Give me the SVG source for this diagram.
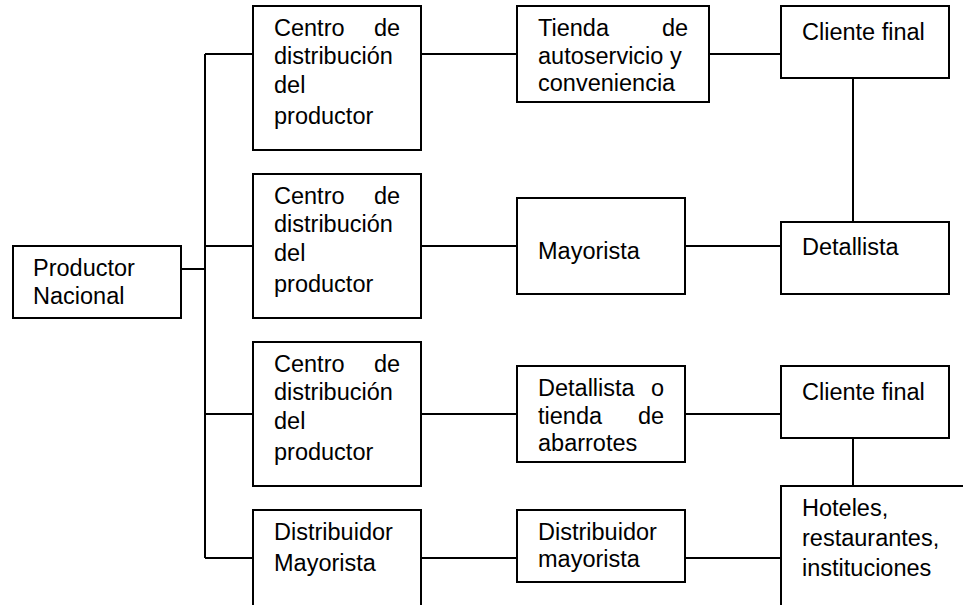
<svg xmlns="http://www.w3.org/2000/svg" width="963" height="605" viewBox="0 0 963 605">
<style>
.box{fill:#fff;stroke:#000;stroke-width:2}
.ln{fill:none;stroke:#000;stroke-width:2}
text{font-family:"Liberation Sans",Arial,sans-serif;font-size:23.5px;fill:#000}
</style>
<rect width="963" height="605" fill="#fff"/>
<g id="connectors">
<path class="ln" d="M181 269H205M205 54V558M205 54H253M205 246H253M205 414H253M205 558H253"/>
<path class="ln" d="M421 54H517M709 54H781"/>
<path class="ln" d="M421 246H517M685 246H781"/>
<path class="ln" d="M421 414H517M685 414H781"/>
<path class="ln" d="M421 558H517M685 558H781"/>
<path class="ln" d="M853 78V222M853 438V486"/>
</g>
<g id="productor">
<rect class="box" x="13" y="246" width="168" height="72"/>
<text x="33" y="276">Productor</text>
<text x="33" y="304">Nacional</text>
</g>
<g id="centro1">
<rect class="box" x="253" y="6" width="168" height="144"/>
<text y="35.5"><tspan x="274">Centro</tspan> <tspan x="373.9">de</tspan></text>
<text x="274" y="64">distribución</text>
<text x="274" y="92.5">del</text>
<text x="274" y="124">productor</text>
</g>
<g id="centro2">
<rect class="box" x="253" y="174" width="168" height="144"/>
<text y="203.5"><tspan x="274">Centro</tspan> <tspan x="373.9">de</tspan></text>
<text x="274" y="232">distribución</text>
<text x="274" y="260.5">del</text>
<text x="274" y="292">productor</text>
</g>
<g id="centro3">
<rect class="box" x="253" y="342" width="168" height="144"/>
<text y="371.5"><tspan x="274">Centro</tspan> <tspan x="373.9">de</tspan></text>
<text x="274" y="400">distribución</text>
<text x="274" y="428.5">del</text>
<text x="274" y="460">productor</text>
</g>
<g id="distribuidor1">
<rect class="box" x="253" y="510" width="168" height="120"/>
<text x="274" y="540">Distribuidor</text>
<text x="274" y="571">Mayorista</text>
</g>
<g id="tienda">
<rect class="box" x="517" y="6" width="192" height="96"/>
<text y="35.5"><tspan x="538">Tienda</tspan> <tspan x="661.9">de</tspan></text>
<text x="538" y="63.5">autoservicio y</text>
<text x="538" y="91">conveniencia</text>
</g>
<g id="mayorista">
<rect class="box" x="517" y="198" width="168" height="96"/>
<text x="538" y="259">Mayorista</text>
</g>
<g id="detallista-abarrotes">
<rect class="box" x="517" y="366" width="168" height="96"/>
<text y="395.5"><tspan x="538">Detallista</tspan> <tspan x="650.9">o</tspan></text>
<text y="423.5"><tspan x="538">tienda</tspan> <tspan x="637.9">de</tspan></text>
<text x="538" y="451">abarrotes</text>
</g>
<g id="distribuidor2">
<rect class="box" x="517" y="510" width="168" height="72"/>
<text x="538" y="539.5">Distribuidor</text>
<text x="538" y="567">mayorista</text>
</g>
<g id="cliente1">
<rect class="box" x="781" y="6" width="168" height="72"/>
<text x="802" y="40">Cliente final</text>
</g>
<g id="detallista">
<rect class="box" x="781" y="222" width="168" height="72"/>
<text x="802" y="255">Detallista</text>
</g>
<g id="cliente2">
<rect class="box" x="781" y="366" width="168" height="72"/>
<text x="802" y="399.5">Cliente final</text>
</g>
<g id="hoteles">
<rect class="box" x="781" y="486" width="200" height="140"/>
<text x="802" y="516">Hoteles,</text>
<text x="802" y="546">restaurantes,</text>
<text x="802" y="576">instituciones</text>
</g>
</svg>
